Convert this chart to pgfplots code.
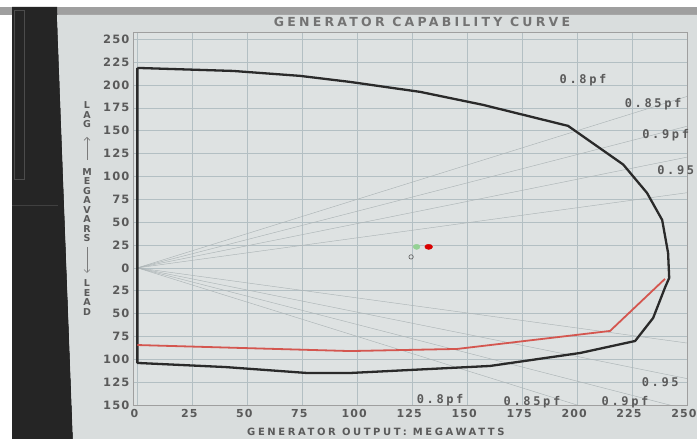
\documentclass[border=0pt]{standalone}
\usepackage{pgfplots}
\pgfplotsset{compat=1.18}
\usepackage{fontspec}
\setmainfont{DejaVu Sans}
\newfontfamily\tickfont[LetterSpace=10]{DejaVu Sans Bold}
\newfontfamily\titlefont[LetterSpace=26]{DejaVu Sans Bold}
\newfontfamily\pffont[LetterSpace=22]{DejaVu Sans Mono Bold}
\newfontfamily\labfont{DejaVu Sans Bold}
\usetikzlibrary{arrows.meta}
\definecolor{panel}{HTML}{D9DDDD}
\definecolor{plotbg}{HTML}{DEE2E2}
\definecolor{gridc}{HTML}{B3BFC3}
\definecolor{txt}{HTML}{5A5A5A}
\definecolor{curve}{HTML}{2A2A2A}
\definecolor{redc}{HTML}{D4564F}
\definecolor{bezel}{HTML}{252525}
\definecolor{pfline}{HTML}{ACB4B6}

\begin{document}
\begin{tikzpicture}[x=1pt,y=1pt]
\useasboundingbox (0,0) rectangle (697,439);
\fill[white] (0,0) rectangle (697,439);
\fill[gray!75] (0,424) rectangle (697,432);
\fill[bezel] (12,0) -- (12,432) -- (57,432) -- (73,0) -- cycle;
\fill[panel] (57,424) -- (697,424) -- (697,0) -- (73,0) -- cycle;
\draw[gray!60!black, line width=0.6pt] (14,429) rectangle (24,260);
\draw[gray!50!black, line width=0.8pt] (12,234) -- (58,234);

\begin{axis}[
  at={(133pt,34pt)}, anchor=south west, scale only axis,
  width=554pt, height=373pt,
  xmin=-2, xmax=250, ymin=-150, ymax=258,
  axis background/.style={fill=plotbg},
  axis line style={draw=gray!75, line width=0.6pt},
  grid=major, grid style={gridc, line width=0.5pt},
  xtick={0,25,...,250},
  ytick={-150,-125,...,250},
  yticklabels={150,125,100,75,50,25,0,25,50,75,100,125,150,175,200,225,250},
  major tick length=0pt,
  tick label style={font=\tickfont\fontsize{11.5}{11.5}\selectfont, text=txt},
  xticklabel style={yshift=-1pt, xshift=-3pt, font=\tickfont\fontsize{11}{11}\selectfont},
  /pgf/number format/assume math mode=true,
  clip mode=individual,
]
% power factor lines (lag / lead)
\addplot[pfline, line width=0.45pt] coordinates {(0,0) (250,187.5)};
\addplot[pfline, line width=0.45pt] coordinates {(0,0) (250,154.9)};
\addplot[pfline, line width=0.45pt] coordinates {(0,0) (250,121.1)};
\addplot[pfline, line width=0.45pt] coordinates {(0,0) (250,82.2)};
\addplot[pfline, line width=0.45pt] coordinates {(0,0) (250,-187.5)};
\addplot[pfline, line width=0.45pt] coordinates {(0,0) (250,-154.9)};
\addplot[pfline, line width=0.45pt] coordinates {(0,0) (250,-121.1)};
\addplot[pfline, line width=0.45pt] coordinates {(0,0) (250,-82.2)};
% capability limit
\addplot[curve, line width=2.3pt, line join=round] coordinates {
(0,218.7) (43.5,215.4) (74,210) (96.7,203.4) (128.6,192.5) (157.2,178.3)
(195.9,155.3) (221,113) (231.8,82) (238.7,52.4) (241.4,16.3) (241.9,-11)
(240.1,-20.9) (234.6,-54.8) (226.4,-80) (201.4,-93.1) (160.4,-107.3)
(96.7,-115) (77.2,-115) (40,-108.5) (0,-104) (0,218.7)};
% under-excitation limit
\addplot[redc, line width=1.8pt, line join=round] coordinates {
(0,-84.4) (96.7,-91) (145.4,-88.7) (215,-69) (240,-12)};
% operating point
\addplot[only marks, mark=*, mark size=2.6pt, color=gray!60!green!60!white, mark options={xscale=1.3}] coordinates {(127,23)};
\addplot[only marks, mark=*, mark size=2.6pt, color=red!85!black, mark options={xscale=1.5}] coordinates {(132.5,23)};
\addplot[only marks, mark=o, mark size=2.2pt, color=gray!70!black, line width=0.6pt] coordinates {(124.5,12)};
% pf labels
\node[font=\pffont\fontsize{12}{12}\selectfont, text=txt] at (axis cs:202.7,205.6) {0.8pf};
\node[font=\pffont\fontsize{12}{12}\selectfont, text=txt] at (axis cs:234.6,179.3) {0.85pf};
\node[anchor=west, inner sep=0pt, font=\pffont\fontsize{12}{12}\selectfont, text=txt] at (axis cs:229.6,145.4) {0.9pf};
\node[anchor=west, inner sep=0pt, font=\pffont\fontsize{12}{12}\selectfont, text=txt] at (axis cs:236.4,107.1) {0.95};
\node[font=\pffont\fontsize{12}{12}\selectfont, text=txt] at (axis cs:237.8,-124.8) {0.95};
\node[font=\pffont\fontsize{12}{12}\selectfont, text=txt] at (axis cs:137.7,-144.5) {0.8pf};
\node[font=\pffont\fontsize{12}{12}\selectfont, text=txt] at (axis cs:179.5,-146.7) {0.85pf};
\node[font=\pffont\fontsize{12}{12}\selectfont, text=txt] at (axis cs:221.8,-146.7) {0.9pf};
\end{axis}

\node[font=\titlefont\fontsize{12.5}{12.5}\selectfont, text=txt!85] at (422,417) {GENERATOR CAPABILITY CURVE};
\node[anchor=north west, inner sep=0pt, font=\titlefont\fontsize{10}{10}\selectfont, text=txt] at (247,11) {GENERATOR OUTPUT: MEGAWATTS};
\node[align=center, inner sep=0pt, font=\labfont\fontsize{9.5}{9.5}\selectfont, text=txt] at (87,324) {L\\A\\G};
\node[align=center, inner sep=0pt, font=\labfont\fontsize{9.5}{9.5}\selectfont, text=txt] at (87,234) {M\\E\\G\\A\\V\\A\\R\\S};
\node[align=center, inner sep=0pt, font=\labfont\fontsize{9.5}{9.5}\selectfont, text=txt] at (87,141.5) {L\\E\\A\\D};
\draw[txt!80, line width=0.6pt, -{Straight Barb[length=3pt]}] (87,279) -- (87,302);
\draw[txt!80, line width=0.6pt, -{Straight Barb[length=3pt]}] (87,192) -- (87,166);
\end{tikzpicture}
\end{document}
